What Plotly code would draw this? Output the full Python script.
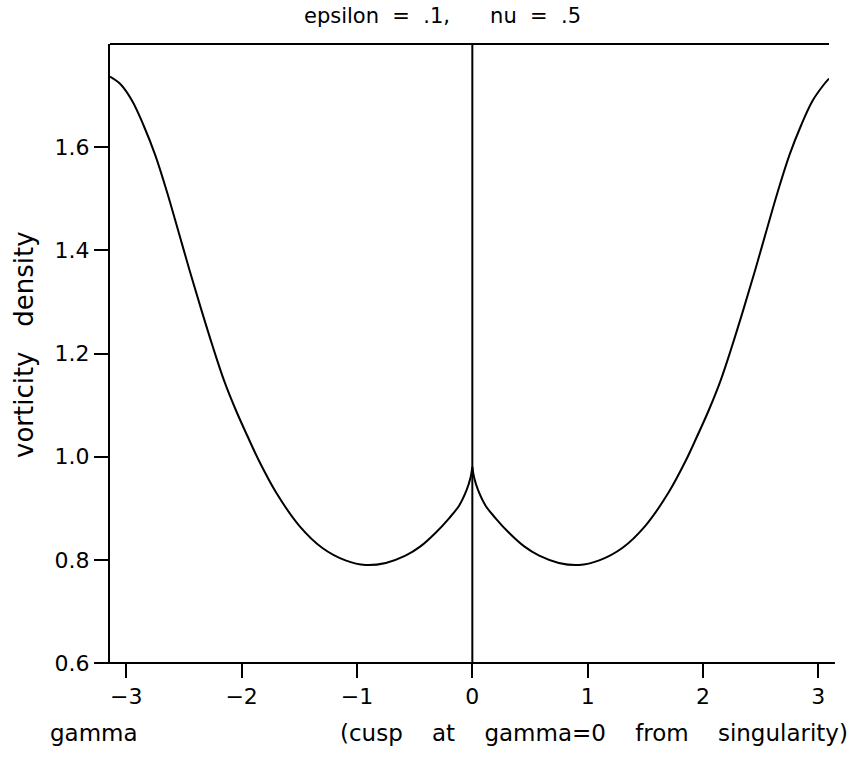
import plotly.graph_objects as go

# Data (two branches meeting at the cusp gamma=0)
gamma_left = [-3.1416, -3.05, -2.95, -2.85, -2.75, -2.65, -2.55, -2.45, -2.35,
              -2.25, -2.15, -2.05, -1.95, -1.85, -1.70, -1.50, -1.30, -1.10,
              -0.925, -0.75, -0.58, -0.45, -0.32, -0.20, -0.115, -0.05,
              -0.015, 0.0]
density_left = [1.737, 1.722, 1.690, 1.642, 1.585, 1.515, 1.438, 1.360, 1.285,
                1.213, 1.146, 1.090, 1.040, 0.992, 0.930, 0.866, 0.823, 0.799,
                0.790, 0.794, 0.808, 0.826, 0.852, 0.881, 0.905, 0.935,
                0.960, 0.980]

gamma_right = [0.0, 0.015, 0.05, 0.115, 0.20, 0.32, 0.45, 0.58, 0.75, 0.925,
               1.10, 1.30, 1.50, 1.70, 1.85, 1.95, 2.05, 2.15, 2.25, 2.35,
               2.45, 2.55, 2.65, 2.75, 2.85, 2.95, 3.05, 3.0925]
density_right = [0.980, 0.960, 0.935, 0.905, 0.881, 0.852, 0.826, 0.808, 0.794,
                 0.790, 0.799, 0.823, 0.866, 0.930, 0.992, 1.040, 1.090, 1.146,
                 1.213, 1.285, 1.360, 1.438, 1.515, 1.585, 1.642, 1.690, 1.722,
                 1.733]

x_ticks = [-3, -2, -1, 0, 1, 2, 3]
y_ticks = [0.6, 0.8, 1.0, 1.2, 1.4, 1.6]
y_tick_text = ["0.6", "0.8", "1.0", "1.2", "1.4", "1.6"]
x_range = [-3.1416, 3.0925]
y_range = [0.6, 1.8]

FONT = "DejaVu Sans"
NB = "\u00a0"
line_style = dict(color="black", width=2, shape="spline", smoothing=1.0)

fig = go.Figure()
fig.add_trace(go.Scatter(x=gamma_left, y=density_left, mode="lines",
                         line=line_style, showlegend=False, hoverinfo="skip"))
fig.add_trace(go.Scatter(x=gamma_right, y=density_right, mode="lines",
                         line=line_style, showlegend=False, hoverinfo="skip"))

title_text = ("epsilon" + NB * 2 + "=" + NB * 2 + ".1," + NB * 6 + "nu"
              + NB * 2 + "=" + NB * 2 + ".5")
gap = NB * 4
note_text = gap.join(["(cusp", "at", "gamma=0", "from", "singularity)"])

fig.update_layout(
    width=864, height=758,
    margin=dict(l=110, r=35, t=44, b=95),
    paper_bgcolor="white", plot_bgcolor="white",
    font=dict(family=FONT, color="black", size=22),
    xaxis=dict(range=x_range, tickvals=x_ticks, ticks="outside", ticklen=14,
               tickwidth=2, tickcolor="black", showgrid=False, zeroline=False,
               showline=False, tickfont=dict(size=22, family=FONT)),
    yaxis=dict(range=y_range, tickvals=y_ticks, ticktext=y_tick_text,
               ticks="outside", ticklen=14, tickwidth=2, tickcolor="black",
               showgrid=False, zeroline=False, showline=True, linewidth=2,
               linecolor="black", tickfont=dict(size=22, family=FONT)),
    shapes=[
        # top frame line
        dict(type="line", xref="paper", yref="paper", x0=0, x1=1, y0=1, y1=1,
             line=dict(color="black", width=2)),
        # bottom axis line (extends slightly beyond plot)
        dict(type="line", xref="paper", yref="paper", x0=-0.0195, x1=1.0083,
             y0=0, y1=0, line=dict(color="black", width=2)),
        # vertical line at gamma = 0
        dict(type="line", xref="x", yref="paper", x0=0, x1=0, y0=0, y1=1,
             line=dict(color="black", width=2)),
    ],
    annotations=[
        dict(text=title_text, xref="paper", yref="paper", x=0.4625, y=1,
             yshift=28, showarrow=False, xanchor="center", yanchor="middle",
             font=dict(size=21, family=FONT)),
        dict(text="vorticity" + NB * 3 + "density", xref="paper", yref="paper",
             x=0, xshift=-86, y=(663 - 345) / 619, textangle=-90,
             showarrow=False, xanchor="center", yanchor="middle",
             font=dict(size=26, family=FONT)),
        dict(text="gamma", xref="paper", yref="paper", x=-0.0222,
             y=0, yshift=-70, showarrow=False, xanchor="center",
             yanchor="middle", font=dict(size=23, family=FONT)),
        dict(text=note_text, xref="paper", yref="paper", x=(594 - 110) / 719,
             y=0, yshift=-70, showarrow=False, xanchor="center",
             yanchor="middle", font=dict(size=23, family=FONT)),
    ],
)

# remove the default 8px page margin so the figure sits at the window origin
fig.write_html("out.html", config={"displayModeBar": False},
               post_script="document.body.style.margin='0';")
